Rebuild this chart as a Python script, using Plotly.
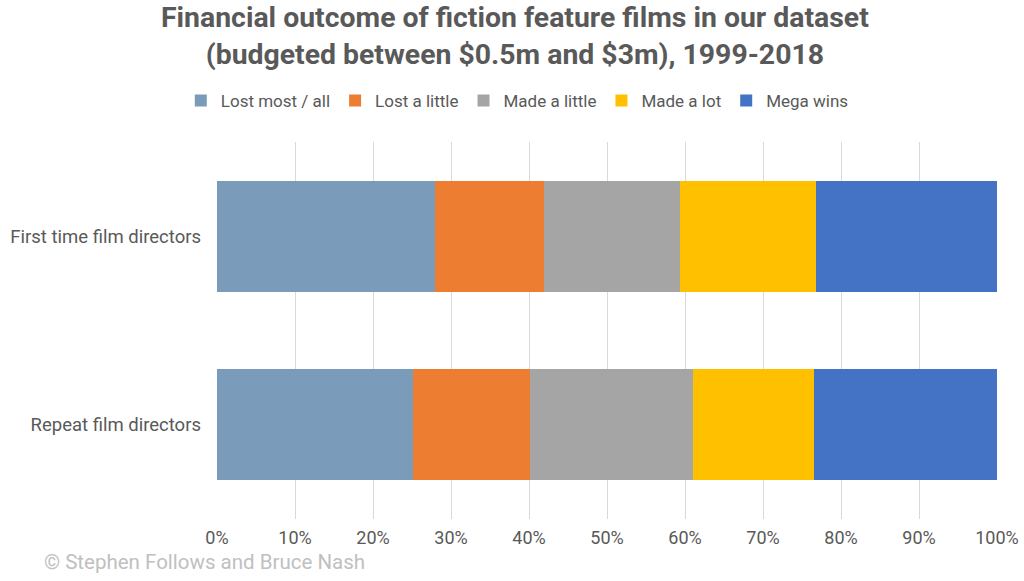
import plotly.graph_objects as go

groups = ["First time film directors", "Repeat film directors"]
outcomes = ["Lost most / all", "Lost a little", "Made a little", "Made a lot", "Mega wins"]
first_time = [27.9, 14.0, 17.4, 17.5, 23.2]
repeat = [25.1, 15.0, 20.9, 15.6, 23.4]
colours = ["#7A9CBA", "#ED7D31", "#A5A5A5", "#FFC000", "#4472C4"]
x_ticks = list(range(0, 101, 10))
x_labels = [f"{v}%" for v in x_ticks]

text_col = "#595959"
fig = go.Figure()
for i, name in enumerate(outcomes):
    fig.add_trace(go.Bar(
        y=groups,
        x=[first_time[i], repeat[i]],
        name=name,
        orientation="h",
        marker=dict(color=colours[i], line=dict(width=0)),
    ))

fig.update_layout(
    barmode="stack",
    bargap=0.41,
    width=1024, height=581,
    paper_bgcolor="white", plot_bgcolor="white",
    margin=dict(l=217, r=27, t=142, b=62),
    font=dict(family="Roboto", color=text_col, size=18),
    legend=dict(
        orientation="h", x=0.385, xanchor="center", y=1.109, yanchor="middle",
        font=dict(size=17, color=text_col), traceorder="normal",
        itemwidth=30,
    ),
    xaxis=dict(
        range=[0, 100], tickmode="array", tickvals=x_ticks, ticktext=x_labels,
        showgrid=True, gridcolor="#D9D9D9", gridwidth=1,
        zeroline=False, showline=False, ticks="", automargin=False,
        ticklabelstandoff=6,
        tickfont=dict(size=18, color=text_col),
    ),
    yaxis=dict(
        autorange="reversed", showgrid=False, showline=False, ticks="",
        ticklabelstandoff=15, automargin=False,
        tickfont=dict(size=18.5, color=text_col),
    ),
)
fig.add_annotation(
    text="<b>Financial outcome of fiction feature films in our dataset<br>(budgeted between $0.5m and $3m), 1999-2018</b>",
    xref="paper", yref="paper", x=0.382, y=1.281,
    xanchor="center", yanchor="middle", align="center", showarrow=False,
    font=dict(size=28.4, color=text_col, family="Roboto"),
)
fig.add_annotation(
    text="© Stephen Follows and Bruce Nash",
    xref="paper", yref="paper", x=-0.224, y=-0.114,
    xanchor="left", yanchor="middle", showarrow=False,
    font=dict(size=20.5, color="#C0C0C0"),
)
fig.write_html("out.html", config={"displayModeBar": False},
               post_script="document.body.style.margin='0';")
